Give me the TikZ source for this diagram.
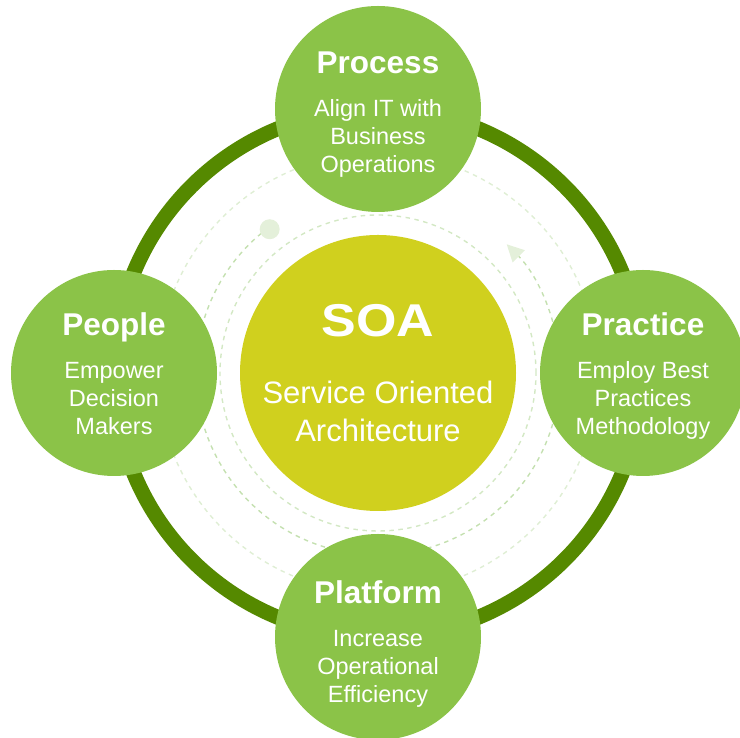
\documentclass[tikz,border=0pt]{standalone}
\usepackage{fontspec}
\setmainfont{Liberation Sans}
\usepackage{tikz}
\usetikzlibrary{arrows.meta, calc}
\definecolor{soaleaf}{RGB}{139,195,72}
\definecolor{soaring}{RGB}{85,137,0}
\definecolor{soahub}{RGB}{208,208,30}
\definecolor{soadash}{RGB}{196,224,176}
\definecolor{soadot}{RGB}{228,240,218}
\tikzset{
  %% ---- circles ----
  pillar/.style = {circle, fill=soaleaf, draw=none,
                   minimum size=206pt, inner sep=0pt},
  hubdisc/.style = {circle, fill=soahub, draw=none,
                   minimum size=276pt, inner sep=0pt},
  %% ---- texts ----
  ttl/.style    = {text=white, anchor=base, inner sep=0pt,
                   font=\fontsize{31.5}{36}\selectfont\bfseries},
  body/.style   = {text=white, anchor=base, inner sep=0pt, align=center,
                   font=\fontsize{23.5}{28}\selectfont},
  %% ---- lines ----
  ring/.style   = {draw=soaring, line width=15pt},
  trail/.style  = {draw=soadash, line width=1.4pt,
                   dash pattern=on 4.5pt off 4.5pt},
}

\begin{document}
\begin{tikzpicture}[x=1pt, y=1pt]

\useasboundingbox (0,0) rectangle (740,738);
\clip (0,0) rectangle (740,738);

%% ── Hub position and outer ring ───────────────────────────────────────────
\coordinate (c) at (378,365);
\draw[ring] (c) circle (264pt);

%% ── Faint orbit trails ────────────────────────────────────────────────────
\draw[trail, opacity=0.75] (c) circle (158pt);
\draw[trail, opacity=0.55] (c) circle (220pt);
\draw[trail, -{Triangle[length=17pt, width=17pt, color=soadot]}]
  ($(c)+(127:182pt)$) arc[start angle=127, end angle=405, radius=182pt];
\fill[soadot] ($(c)+(127:180pt)$) circle (10pt);

%% ── Four pillars ──────────────────────────────────────────────────────────
\node[pillar] (proc) at (378,629) {};
\node[pillar] (ppl)  at (114,365) {};
\node[pillar] (prac) at (643,365) {};
\node[pillar] (plat) at (378,101) {};

%% ── Central hub ───────────────────────────────────────────────────────────
\node[hubdisc] (hub) at (c) {};

%% ── Pillar labels (body anchored on its last line) ───────────────────────
\node[ttl]  (proc-t) at ([yshift=35pt]proc.center) {Process};
\node[body] (proc-b) at ([yshift=-64pt]proc.center) {Align IT with\\Business\\Operations};

\node[ttl]  (ppl-t) at ([yshift=37pt]ppl.center) {People};
\node[body] (ppl-b) at ([yshift=-62pt]ppl.center) {Empower\\Decision\\Makers};

\node[ttl]  (prac-t) at ([yshift=37pt]prac.center) {Practice};
\node[body] (prac-b) at ([yshift=-62pt]prac.center) {Employ Best\\Practices\\Methodology};

\node[ttl]  (plat-t) at ([yshift=33pt]plat.center) {Platform};
\node[body] (plat-b) at ([yshift=-66pt]plat.center) {Increase\\Operational\\Efficiency};

%% ── Hub labels ────────────────────────────────────────────────────────────
\node[ttl, font=\fontsize{46}{50}\selectfont\bfseries]
  (hub-t) at ([yshift=36pt]hub.center) {\scalebox{1.13}[1]{SOA}};
\node[body, font=\fontsize{31}{38}\selectfont]
  (hub-b) at ([yshift=-69pt]hub.center) {Service Oriented\\Architecture};

\end{tikzpicture}
\end{document}
